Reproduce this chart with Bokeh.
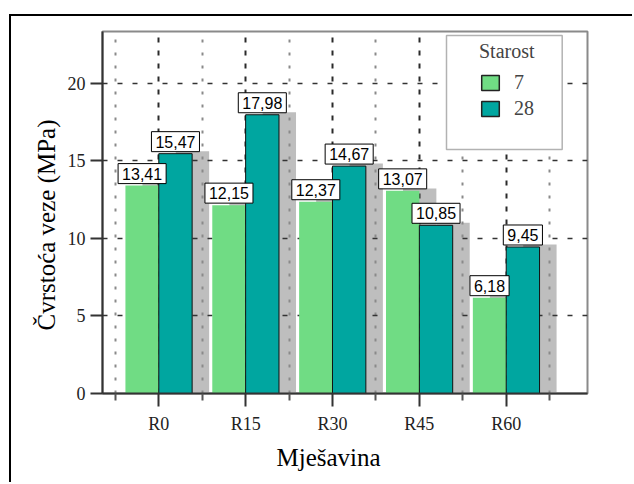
import numpy as np
from bokeh.plotting import figure
from bokeh.models import (Range1d, FixedTicker, ColumnDataSource, Legend,
                          LegendItem, BoxAnnotation, Title)
from bokeh.core.properties import value
from bokeh.embed import file_html
from bokeh.resources import INLINE

# ---- data ----
mixes = ["R0", "R15", "R30", "R45", "R60"]
age_7 = [13.41, 12.15, 12.37, 13.07, 6.18]
age_28 = [15.47, 17.98, 14.67, 10.85, 9.45]
ages = ["7", "28"]
y_ticks = [0, 5, 10, 15, 20]

GREEN = "#70dc84"
TEAL = "#00a6a0"
SHADOW = "#bebebe"
SERIF = "Liberation Serif"

xi = np.arange(len(mixes), dtype=float)
bw = 0.384
dx_shadow = 0.196
dy_shadow = 0.16

fmt = lambda v: f"{v:.2f}".replace(".", ",")

src7 = ColumnDataSource(dict(x=xi - bw / 2, top=age_7, xs=xi - bw / 2 + dx_shadow,
                             ts=np.array(age_7) + dy_shadow, lab=[fmt(v) for v in age_7]))
src28 = ColumnDataSource(dict(x=xi + bw / 2, top=age_28, xs=xi + bw / 2 + dx_shadow,
                              ts=np.array(age_28) + dy_shadow, lab=[fmt(v) for v in age_28]))

p = figure(width=632, height=482, output_backend="svg", toolbar_location=None,
           x_range=Range1d(-0.648, 4.936), y_range=Range1d(0, 23.35),
           min_border_left=102, min_border_right=45, min_border_top=31,
           min_border_bottom=89, background_fill_color="white",
           border_fill_alpha=0)
# outer frame lines (left and top) of the chart box
p.styles = {
    "background-image": "linear-gradient(#000, #000), linear-gradient(#000, #000)",
    "background-size": "2px 100%, 100% 2px",
    "background-position": "9px 14px, 9px 14px",
    "background-repeat": "no-repeat",
}
p.outline_line_color = "#8a8a8a"
p.outline_line_width = 2

# shadows (behind grid)
for s in (src7, src28):
    p.vbar(x="xs", top="ts", bottom=0, width=bw, source=s, fill_color=SHADOW,
           line_color=None, level="image")

# bars
p.vbar(x="x", top="top", bottom=0, width=bw, source=src7, fill_color=GREEN,
       line_color=None)
p.vbar(x="x", top="top", bottom=0, width=bw, source=src28, fill_color=TEAL,
       line_color="#111111", line_width=1)

# value labels
for s in (src7, src28):
    p.text(x="x", y="top", text="lab", source=s, anchor="bottom_center",
           text_align="center", text_baseline="middle", y_offset=-2,
           text_font=value("Liberation Sans"), text_font_size="16px",
           text_color="black", padding=4, background_fill_color="white",
           border_line_color="black", border_line_width=1)

# axes
xt = FixedTicker(ticks=list(xi), minor_ticks=list(np.arange(-0.5, len(mixes), 1.0)))
p.xaxis.ticker = xt
p.xaxis.major_label_overrides = {int(i): m for i, m in zip(xi, mixes)}
p.yaxis.ticker = FixedTicker(ticks=y_ticks, minor_ticks=[])

for ax in (p.xaxis[0], p.yaxis[0]):
    ax.axis_line_color = "#333333"
    ax.axis_line_width = 2
    ax.major_tick_line_color = "#333333"
    ax.major_tick_line_width = 2
    ax.major_tick_in = 0
    ax.major_label_text_font = SERIF
    ax.major_label_text_font_size = "18px"
    ax.major_label_text_color = "#222222"

p.xaxis.major_tick_out = 13
p.xaxis.minor_tick_out = 7
p.xaxis.minor_tick_in = 0
p.xaxis.minor_tick_line_color = "#555555"
p.xaxis.minor_tick_line_width = 2
p.xaxis.major_label_standoff = 7

p.yaxis.major_tick_out = 12
p.yaxis.minor_tick_line_color = None
p.yaxis.major_label_standoff = 5

# axis titles
title_kw = dict(text_font=SERIF, text_font_size="25px", text_color="black",
                text_font_style="normal", align="left", standoff=10)
p.add_layout(Title(text="Čvrstoća veze (MPa)", offset=63, **title_kw), "left")
p.add_layout(Title(text="Mješavina", offset=174, **title_kw), "below")

# grids
p.xgrid.ticker = xt
p.xgrid.grid_line_color = "#2a2a2a"
p.xgrid.grid_line_width = 2
p.xgrid.grid_line_dash = "5 8"
p.xgrid.minor_grid_line_color = "#8a8a8a"
p.xgrid.minor_grid_line_width = 2
p.xgrid.minor_grid_line_dash = "3 10"
p.ygrid.grid_line_color = "#333333"
p.ygrid.grid_line_width = 1.5
p.ygrid.grid_line_dash = "5 10"

# legend box
box = BoxAnnotation(left=344, right=459.7, bottom=244, top=358,
                    left_units="screen", right_units="screen",
                    bottom_units="screen", top_units="screen",
                    fill_color="white", fill_alpha=1, line_color="black",
                    line_width=1.5, level="annotation")
p.add_layout(box)

r7l = p.vbar(x=[np.nan], top=[np.nan], width=0.3, fill_color=GREEN,
             line_color="#222222", line_width=1.5)
r28l = p.vbar(x=[np.nan], top=[np.nan], width=0.3, fill_color=TEAL,
              line_color="#222222", line_width=1.5)
legend = Legend(items=[LegendItem(label=ages[0], renderers=[r7l]),
                       LegendItem(label=ages[1], renderers=[r28l])],
                title="Starost", location=(377, 273), padding=0, margin=0,
                spacing=3, glyph_width=22, glyph_height=19, label_standoff=13,
                label_text_font=SERIF, label_text_font_size="20px",
                title_text_font=SERIF, title_text_font_size="20px",
                title_text_font_style="normal", title_standoff=8,
                border_line_alpha=0, background_fill_alpha=0)
p.add_layout(legend)

open("out.html", "w").write(file_html(p, INLINE))
